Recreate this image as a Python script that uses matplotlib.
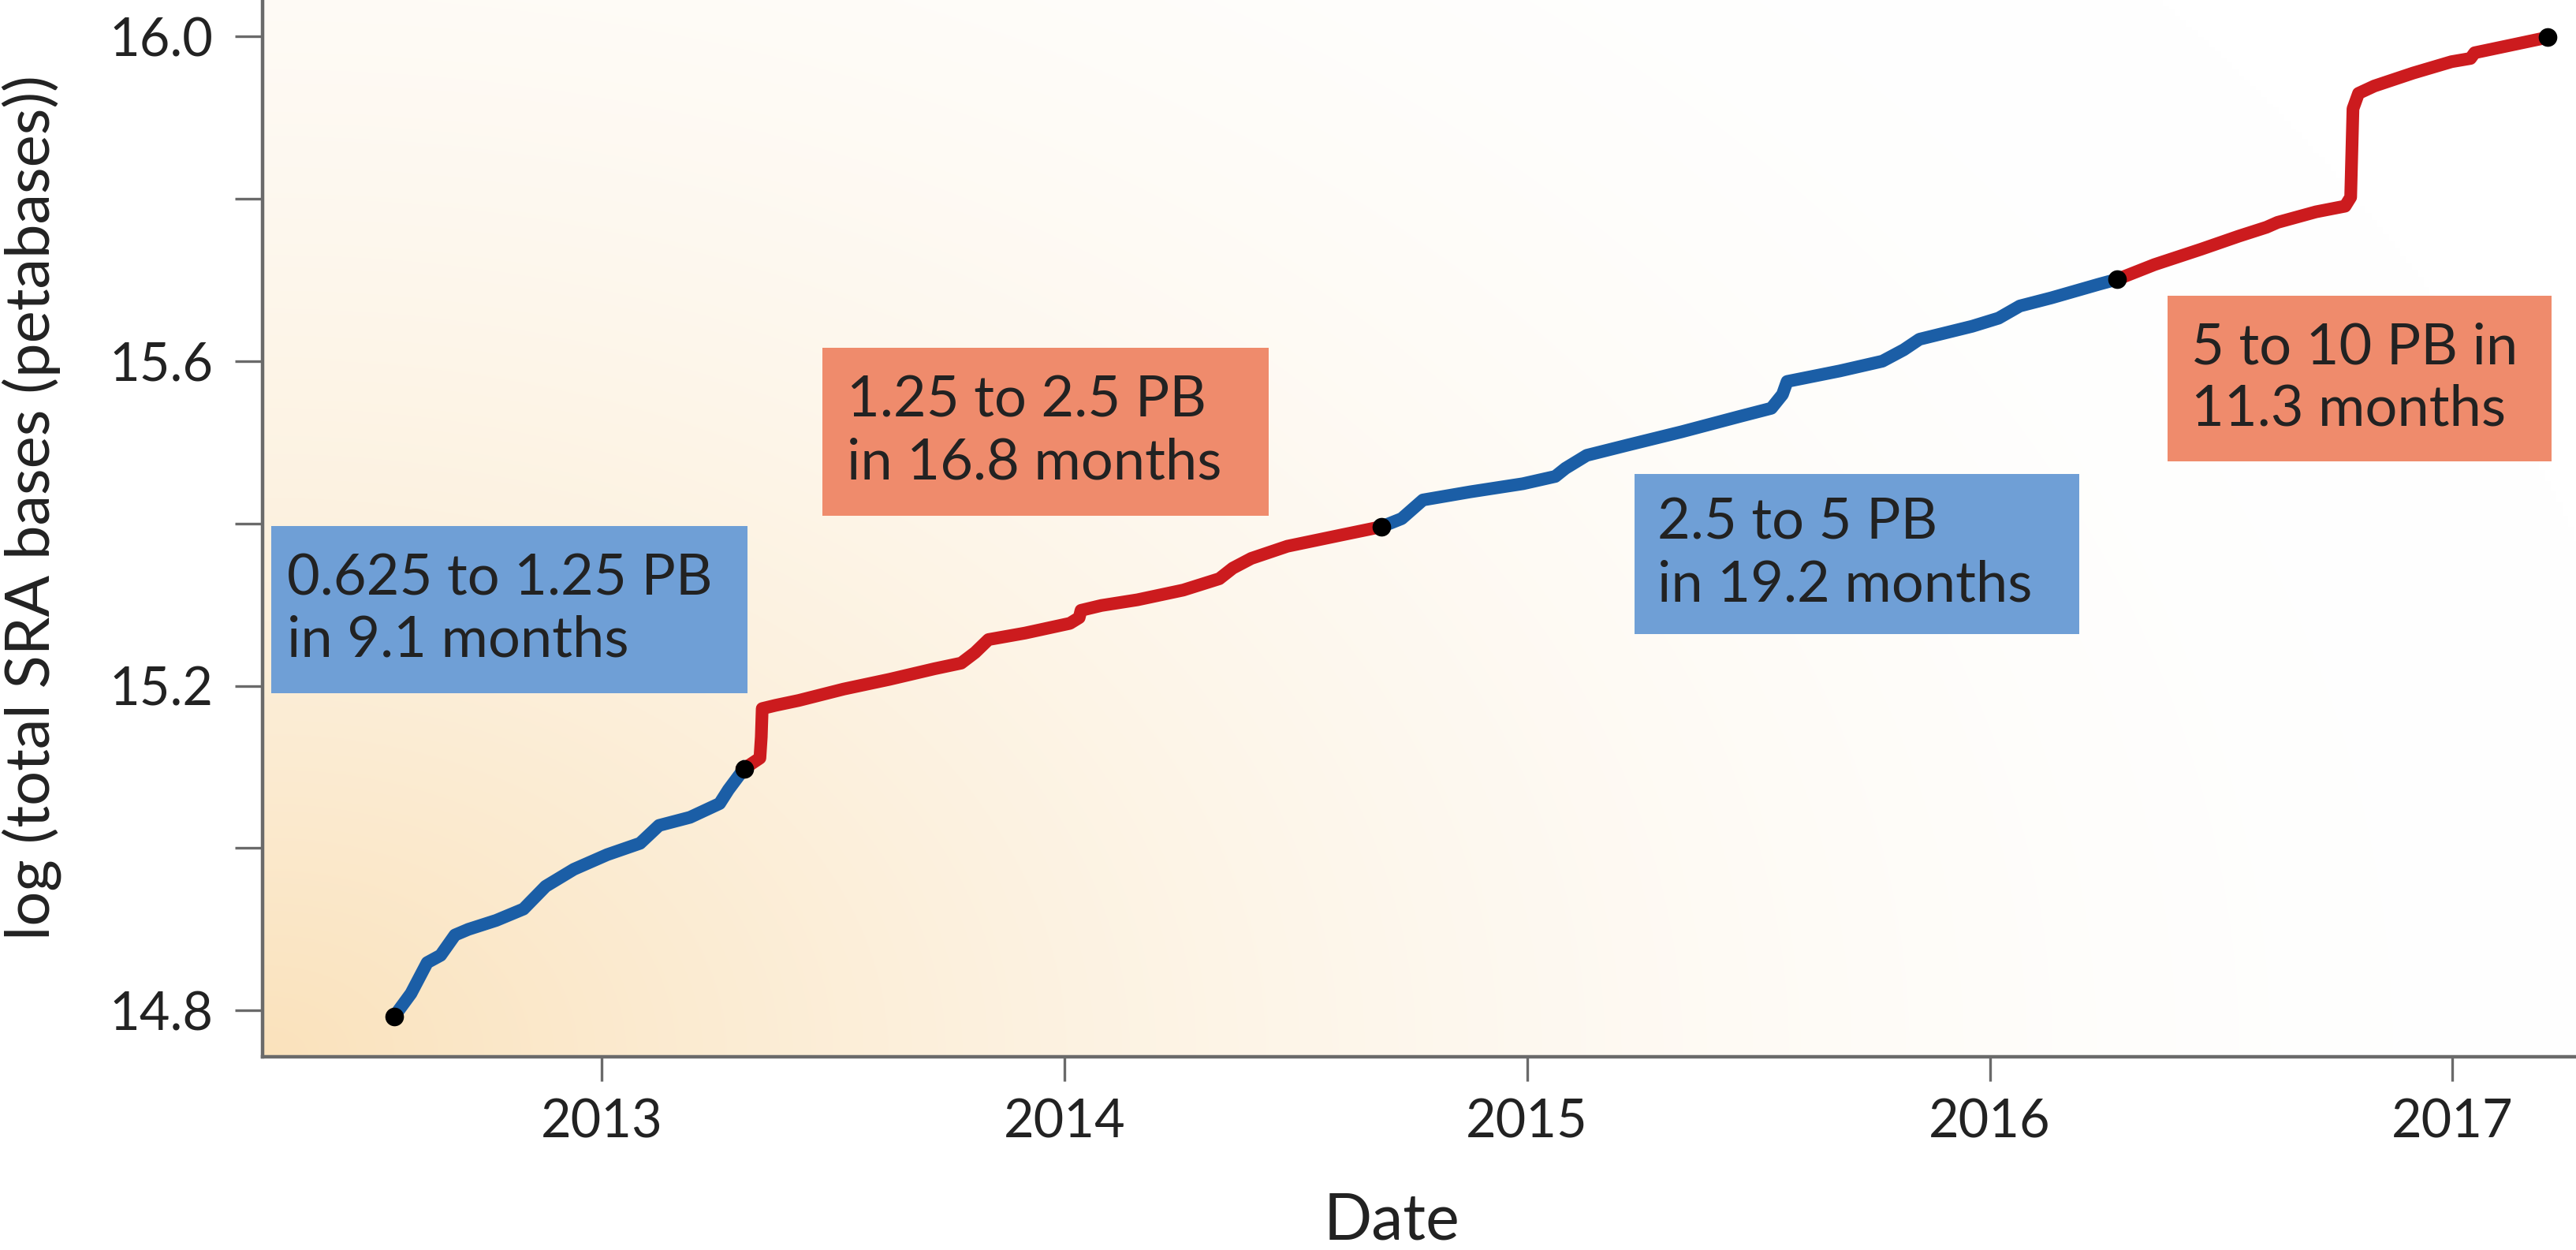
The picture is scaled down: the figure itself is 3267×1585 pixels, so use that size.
import numpy as np
import matplotlib
matplotlib.use('Agg')
import matplotlib.pyplot as plt
from matplotlib.patches import Rectangle

plt.rcParams['font.family'] = ['Lato', 'DejaVu Sans']

# ===================== data (decimal year, log10 total SRA bases) =====================
seg1_x = [2012.552, 2012.588, 2012.623, 2012.652, 2012.683, 2012.712, 2012.772, 2012.831,
          2012.879, 2012.940, 2013.012, 2013.083, 2013.124, 2013.191, 2013.255, 2013.274, 2013.308]
seg1_y = [14.793, 14.821, 14.859, 14.868, 14.893, 14.900, 14.911, 14.925,
          14.953, 14.974, 14.992, 15.006, 15.028, 15.038, 15.055, 15.072, 15.098]

seg2_x = [2013.308, 2013.342, 2013.345, 2013.347, 2013.376, 2013.426, 2013.523, 2013.622,
          2013.719, 2013.777, 2013.807, 2013.836, 2013.915, 2014.012, 2014.032, 2014.036,
          2014.080, 2014.158, 2014.257, 2014.335, 2014.364, 2014.404, 2014.482, 2014.600, 2014.685]
seg2_y = [15.098, 15.111, 15.137, 15.172, 15.176, 15.182, 15.196, 15.208,
          15.221, 15.228, 15.241, 15.257, 15.265, 15.277, 15.284, 15.293,
          15.299, 15.306, 15.318, 15.332, 15.345, 15.357, 15.372, 15.386, 15.396]

seg3_x = [2014.685, 2014.729, 2014.775, 2014.877, 2014.991, 2015.061, 2015.083, 2015.129,
          2015.220, 2015.334, 2015.460, 2015.528, 2015.552, 2015.562, 2015.676, 2015.768,
          2015.814, 2015.848, 2015.962, 2016.019, 2016.065, 2016.133, 2016.237, 2016.276]
seg3_y = [15.396, 15.406, 15.429, 15.439, 15.449, 15.458, 15.468, 15.484,
          15.497, 15.513, 15.532, 15.542, 15.559, 15.575, 15.588, 15.600,
          15.614, 15.627, 15.643, 15.653, 15.668, 15.678, 15.695, 15.701]

seg4_x = [2016.276, 2016.356, 2016.457, 2016.538, 2016.598, 2016.622, 2016.705, 2016.768,
          2016.780, 2016.785, 2016.797, 2016.831, 2016.915, 2016.998, 2017.039, 2017.048,
          2017.123, 2017.206]
seg4_y = [15.701, 15.719, 15.738, 15.754, 15.765, 15.771, 15.784, 15.791,
          15.802, 15.911, 15.930, 15.939, 15.955, 15.969, 15.973, 15.980,
          15.989, 15.999]

dot_x = [2012.552, 2013.308, 2014.685, 2016.276, 2017.206]
dot_y = [14.793, 15.098, 15.396, 15.701, 15.999]

box_labels = ['0.625 to 1.25 PB\nin 9.1 months',
              '1.25 to 2.5 PB\nin 16.8 months',
              '2.5 to 5 PB\nin 19.2 months',
              '5 to 10 PB in\n11.3 months']

year_ticks = [2013, 2014, 2015, 2016, 2017]
y_major = [14.8, 15.2, 15.6, 16.0]
y_minor = [15.0, 15.4, 15.8]

# ===================== style =====================
BLUE_LINE = '#1b5ea6'
RED_LINE = '#cc1b1e'
BLUE_BOX = '#6f9fd6'
SALMON_BOX = '#ef8b6c'
TEXT_DARK = '#222222'
SPINE = '#6a6a6a'

fig = plt.figure(figsize=(16.335, 7.925), dpi=200)
ax = fig.add_axes([0.1019, 0.1546, 0.8981, 0.8454])
ax.set_xlim(2012.267, 2017.267)
ax.set_ylim(14.743, 16.045)

# background gradient, pale peach in the lower-left fading to white
gx, gy = np.meshgrid(np.linspace(0, 1, 400), np.linspace(0, 1, 300))
w = np.clip(1 - np.sqrt((gx / 1.05) ** 2 + (gy / 1.6) ** 2), 0, 1) ** 2
white = np.array([255, 255, 255]) / 255
peach = np.array([250, 226, 188]) / 255
img = white[None, None, :] - w[:, :, None] * (white - peach)[None, None, :]
ax.imshow(img, extent=[0, 1, 0, 1], transform=ax.transAxes, origin='lower',
          aspect='auto', zorder=0, interpolation='bilinear')

# annotation boxes (axes fraction: x0, y0, x1, y1)
box_pos = [(0.0037, 0.3440, 0.2096, 0.5022),
           (0.2420, 0.5119, 0.4349, 0.6709),
           (0.5930, 0.4000, 0.7853, 0.5515),
           (0.8235, 0.5634, 0.9894, 0.7201)]
box_colors = [BLUE_BOX, SALMON_BOX, BLUE_BOX, SALMON_BOX]
text_pad = [0.007, 0.0105, 0.0100, 0.0102]
for (x0, y0, x1, y1), c, lab, p in zip(box_pos, box_colors, box_labels, text_pad):
    ax.add_patch(Rectangle((x0, y0), x1 - x0, y1 - y0, transform=ax.transAxes,
                           facecolor=c, edgecolor='none', zorder=2))
    ax.text(x0 + p, (y0 + y1) / 2, lab, transform=ax.transAxes, ha='left', va='center',
            fontsize=26, color=TEXT_DARK, linespacing=1.25, zorder=3)

# growth curve
lw = 5.8
ax.plot(seg1_x, seg1_y, color=BLUE_LINE, lw=lw, solid_joinstyle='round', zorder=4)
ax.plot(seg2_x, seg2_y, color=RED_LINE, lw=lw, solid_joinstyle='round', zorder=4)
ax.plot(seg3_x, seg3_y, color=BLUE_LINE, lw=lw, solid_joinstyle='round', zorder=4)
ax.plot(seg4_x, seg4_y, color=RED_LINE, lw=lw, solid_joinstyle='round', zorder=4)
ax.plot(dot_x, dot_y, 'o', color='black', ms=7.5, zorder=5)

# axes styling
for s in ['top', 'right']:
    ax.spines[s].set_visible(False)
for s in ['left', 'bottom']:
    ax.spines[s].set_color(SPINE)
    ax.spines[s].set_linewidth(1.6)

ax.set_xticks(year_ticks)
ax.set_xticklabels([str(y) for y in year_ticks])
ax.set_yticks(y_major)
ax.set_yticklabels([f'{v:.1f}' for v in y_major])
ax.set_yticks(y_minor, minor=True)
ax.tick_params(axis='both', which='both', direction='out', colors=SPINE, width=1.2,
               labelcolor=TEXT_DARK, labelsize=24)
ax.tick_params(axis='y', which='both', length=12.5, pad=10)
ax.tick_params(axis='x', which='both', length=11, pad=8)

ax.set_xlabel('Date', fontsize=29, color=TEXT_DARK)
ax.xaxis.set_label_coords(0.488, -0.128)
ax.set_ylabel('log (total SRA bases (petabases))', fontsize=28, color=TEXT_DARK)
ax.yaxis.set_label_coords(-0.087, 0.52)

fig.savefig('out.png', dpi=200)
